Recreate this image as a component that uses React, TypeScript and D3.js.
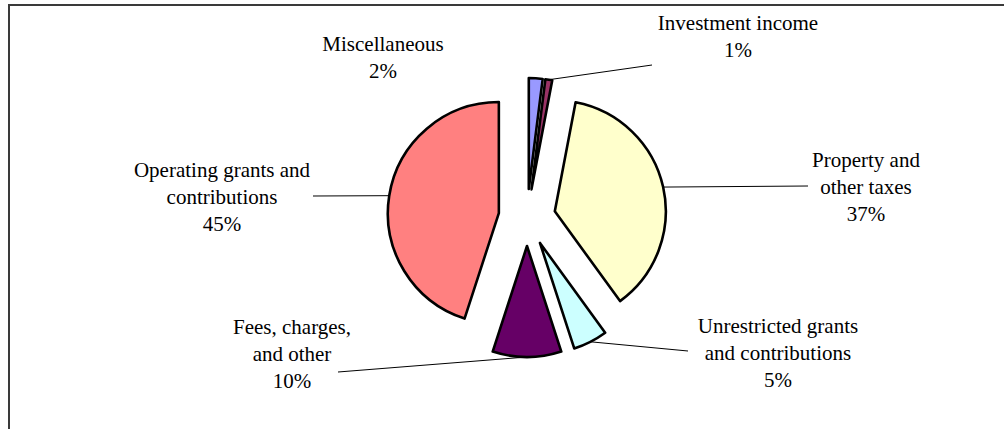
import * as d3 from "d3";

// revenue sources, clockwise from 12 o'clock
const categories = [
  "Miscellaneous",
  "Investment income",
  "Property and other taxes",
  "Unrestricted grants and contributions",
  "Fees, charges, and other",
  "Operating grants and contributions",
];
const values = [2, 1, 37, 5, 10, 45];
const labelLines = [
  ["Miscellaneous", "2%"],
  ["Investment income", "1%"],
  ["Property and", "other taxes", "37%"],
  ["Unrestricted grants", "and contributions", "5%"],
  ["Fees, charges,", "and other", "10%"],
  ["Operating grants and", "contributions", "45%"],
];
const colors = ["#9999FF", "#993366", "#FFFFCC", "#CCFFFF", "#660066", "#FF8080"];

// label layout: text centre x, first baseline y, leader end (null = no leader)
const labelPos: { x: number; y: number; lead: [number, number] | null }[] = [
  { x: 383, y: 51, lead: null },
  { x: 738, y: 30, lead: [652, 65] },
  { x: 866, y: 167, lead: [808, 186] },
  { x: 778, y: 333, lead: [688, 351] },
  { x: 292, y: 334, lead: [338, 372] },
  { x: 222, y: 177, lead: [313, 196] },
];

const W = 1004;
const H = 429;
const cx = 527;
const cy = 217.5;
const radius = 111;
const explode = 28.5;
const lineH = 27;

export default function App() {
  const pie = d3
    .pie<number>()
    .sort(null)
    .value((d) => d);
  const arcs = pie(values);
  const arc = d3.arc<d3.PieArcDatum<number>>().innerRadius(0).outerRadius(radius);

  const offset = (a: d3.PieArcDatum<number>, dist: number) => {
    const mid = (a.startAngle + a.endAngle) / 2;
    return [Math.sin(mid) * dist, -Math.cos(mid) * dist];
  };

  return (
    <svg
      width={W}
      height={H}
      style={{ position: "absolute", left: 0, top: 0 }}
      fontFamily="'Liberation Serif', 'Times New Roman', serif"
    >
      <rect x={0} y={0} width={W} height={H} fill="#fff" />
      <rect x={9} y={5} width={W + 20} height={H + 20} fill="none" stroke="#3a3a3a" strokeWidth={2} />

      <g transform={`translate(${cx},${cy})`}>
        {arcs.map((a, i) => {
          const [dx, dy] = offset(a, explode);
          return (
            <path
              key={categories[i]}
              d={arc(a) || ""}
              transform={`translate(${dx},${dy})`}
              fill={colors[i]}
              stroke="#000"
              strokeWidth={2.6}
              strokeLinejoin="round"
            />
          );
        })}
      </g>

      {arcs.map((a, i) => {
        const lp = labelPos[i];
        if (!lp.lead) return null;
        const [sx, sy] = offset(a, explode + radius);
        return (
          <line
            key={"lead" + i}
            x1={cx + sx}
            y1={cy + sy}
            x2={lp.lead[0]}
            y2={lp.lead[1]}
            stroke="#000"
            strokeWidth={1}
          />
        );
      })}

      {labelLines.map((lines, i) => (
        <text key={"lbl" + i} x={labelPos[i].x} y={labelPos[i].y} fontSize={21} textAnchor="middle" fill="#000">
          {lines.map((t, j) => (
            <tspan key={j} x={labelPos[i].x} dy={j === 0 ? 0 : lineH}>
              {t}
            </tspan>
          ))}
        </text>
      ))}
    </svg>
  );
}
